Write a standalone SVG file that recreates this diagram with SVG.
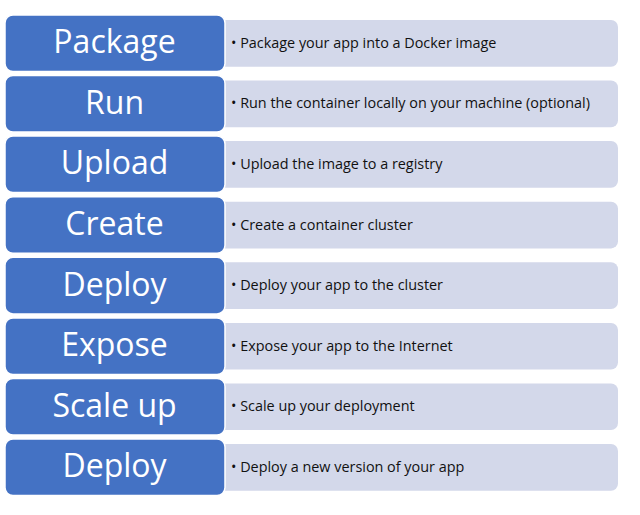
<svg xmlns="http://www.w3.org/2000/svg" width="640" height="515" viewBox="0 0 640 515">
<style>
.blue{fill:#4472C4;stroke:#FFFFFF;stroke-width:1.5}
.lite{fill:#D3D8EA}
.head{font-family:"Open Sans","Liberation Sans",sans-serif;font-size:32px;fill:#FFFFFF;text-anchor:middle}
.desc{font-family:"Open Sans","Liberation Sans",sans-serif;font-size:14.4px;fill:#111111}
</style>
<rect width="640" height="515" fill="#FFFFFF"/>
<g id="row1"><rect class="lite" x="212" y="20" width="406" height="46.7" rx="7"/><rect class="blue" x="5" y="15" width="220" height="56.6" rx="8"/><text class="head" x="114.5" y="53.3">Package</text><text class="desc" x="231" y="47.8">• Package your app into a Docker image</text></g>
<g id="row2"><rect class="lite" x="212" y="80.5" width="406" height="46.7" rx="7"/><rect class="blue" x="5" y="75.5" width="220" height="56.6" rx="8"/><text class="head" x="114.5" y="113.8">Run</text><text class="desc" x="231" y="108.3">• Run the container locally on your machine (optional)</text></g>
<g id="row3"><rect class="lite" x="212" y="141" width="406" height="46.7" rx="7"/><rect class="blue" x="5" y="136" width="220" height="56.6" rx="8"/><text class="head" x="114.5" y="174.3">Upload</text><text class="desc" x="231" y="168.8">• Upload the image to a registry</text></g>
<g id="row4"><rect class="lite" x="212" y="201.7" width="406" height="46.7" rx="7"/><rect class="blue" x="5" y="196.7" width="220" height="56.6" rx="8"/><text class="head" x="114.5" y="235">Create</text><text class="desc" x="231" y="229.5">• Create a container cluster</text></g>
<g id="row5"><rect class="lite" x="212" y="262.3" width="406" height="46.7" rx="7"/><rect class="blue" x="5" y="257.3" width="220" height="56.6" rx="8"/><text class="head" x="114.5" y="295.6">Deploy</text><text class="desc" x="231" y="290.1">• Deploy your app to the cluster</text></g>
<g id="row6"><rect class="lite" x="212" y="322.9" width="406" height="46.7" rx="7"/><rect class="blue" x="5" y="317.9" width="220" height="56.6" rx="8"/><text class="head" x="114.5" y="356.2">Expose</text><text class="desc" x="231" y="350.7">• Expose your app to the Internet</text></g>
<g id="row7"><rect class="lite" x="212" y="383.4" width="406" height="46.7" rx="7"/><rect class="blue" x="5" y="378.4" width="220" height="56.6" rx="8"/><text class="head" x="114.5" y="416.7">Scale up</text><text class="desc" x="231" y="411.2">• Scale up your deployment</text></g>
<g id="row8"><rect class="lite" x="212" y="444" width="406" height="46.7" rx="7"/><rect class="blue" x="5" y="439" width="220" height="56.6" rx="8"/><text class="head" x="114.5" y="477.3">Deploy</text><text class="desc" x="231" y="471.8">• Deploy a new version of your app</text></g>
</svg>
